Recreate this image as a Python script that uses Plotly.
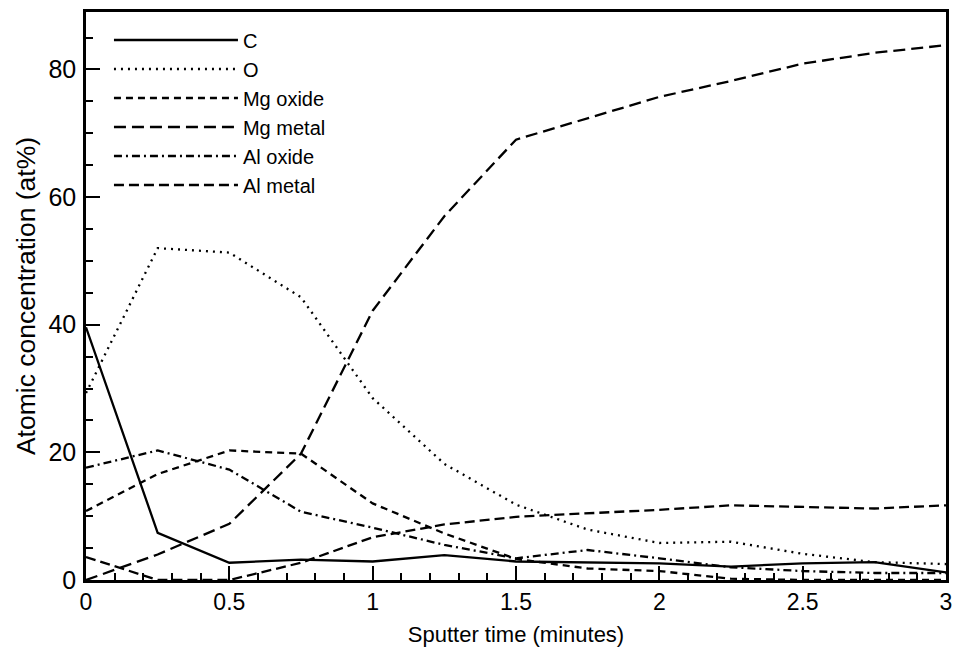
import plotly.graph_objects as go

time = [0, 0.25, 0.5, 0.75, 1, 1.25, 1.5, 1.75, 2, 2.25, 2.5, 2.75, 3]
c_vals = [39.6, 7.4, 2.7, 3.2, 2.9, 3.9, 2.9, 2.8, 2.6, 2.1, 2.6, 2.8, 1.2]
o_vals = [29.3, 52.0, 51.3, 44.3, 28.5, 18.2, 11.8, 7.9, 5.8, 6.0, 4.1, 2.8, 2.5]
mg_oxide = [10.8, 16.6, 20.3, 19.8, 12.0, 7.3, 3.3, 1.8, 1.4, 0.2, 0.0, 0.0, 0.0]
mg_metal = [0.0, 4.0, 8.8, 19.8, 42.2, 57.0, 69.0, 72.4, 75.7, 78.2, 80.9, 82.6, 83.8]
al_oxide = [17.6, 20.3, 17.3, 10.7, 8.2, 5.5, 3.4, 4.7, 3.4, 2.0, 1.4, 1.1, 1.1]
al_metal = [3.6, 0.0, 0.0, 2.7, 6.7, 8.7, 9.9, 10.4, 11.0, 11.7, 11.4, 11.2, 11.7]

series = [
    ("C", c_vals, "solid"),
    ("O", o_vals, "2px,5px"),
    ("Mg oxide", mg_oxide, "7px,5px"),
    ("Mg metal", mg_metal, "12px,6px"),
    ("Al oxide", al_oxide, "8px,4px,2px,4px"),
    ("Al metal", al_metal, "10px,5px"),
]

FONT = "Liberation Sans, Arial, Helvetica, sans-serif"

fig = go.Figure()
for name, vals, dash in series:
    fig.add_trace(go.Scatter(
        x=time, y=vals, name=name, mode="lines",
        line=dict(color="black", width=2.3, dash=dash),
    ))

fig.update_layout(
    width=954, height=654,
    margin=dict(l=86, r=8, t=12, b=74),
    paper_bgcolor="white", plot_bgcolor="white",
    font=dict(family=FONT, color="black", size=20),
    legend=dict(
        x=0.0267, y=0.985, xanchor="left", yanchor="top",
        bgcolor="rgba(0,0,0,0)", borderwidth=0,
        font=dict(size=20, family=FONT),
        itemwidth=124, tracegroupgap=0,
    ),
    xaxis=dict(
        range=[0, 3], showgrid=False, zeroline=False, automargin=False,
        showline=True, linecolor="black", linewidth=2.5, mirror=True,
        ticks="inside", ticklen=14, tickwidth=2, tickcolor="black",
        tickvals=[0, 0.5, 1, 1.5, 2, 2.5, 3],
        ticktext=["0", "0.5", "1", "1.5", "2", "2.5", "3"],
        tickfont=dict(size=23, family=FONT),
        minor=dict(dtick=0.1, tick0=0, ticks="inside", ticklen=7, tickwidth=1.5, tickcolor="black"),
        title=dict(text="Sputter time (minutes)", font=dict(size=22, family=FONT), standoff=13),
    ),
    yaxis=dict(
        range=[0, 89], showgrid=False, zeroline=False, automargin=False,
        showline=True, linecolor="black", linewidth=2.5, mirror=True,
        ticks="inside", ticklen=14, tickwidth=2, tickcolor="black",
        tickvals=[0, 20, 40, 60, 80],
        tickfont=dict(size=25, family=FONT),
        ticklabelstandoff=2,
        minor=dict(dtick=5, tick0=0, ticks="inside", ticklen=7, tickwidth=1.5, tickcolor="black"),
        title=dict(text="Atomic concentration (at%)", font=dict(size=26.5, family=FONT), standoff=6),
    ),
    showlegend=True,
)

fig.write_html("out.html", config={"displayModeBar": False},
               post_script="document.body.style.margin='0';")
